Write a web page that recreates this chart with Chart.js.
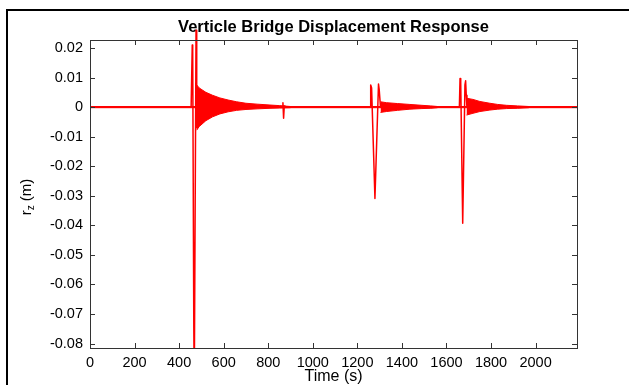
<!DOCTYPE html>
<html>
<head>
<meta charset="utf-8">
<script src="https://cdn.jsdelivr.net/npm/chart.js@4/dist/chart.umd.min.js"></script>
<style>
  body { margin: 0; background: #fff; }
  #wrap { width: 629px; height: 385px; }
</style>
</head>
<body>
<div id="wrap"><canvas id="myChart"></canvas></div>
<script>
// axis limits and ticks
const xMax = 2186;
const yMin = -0.0815;
const yMax = 0.0227;
const xTicks = [0, 200, 400, 600, 800, 1000, 1200, 1400, 1600, 1800, 2000];
const yTicks = [-0.08, -0.07, -0.06, -0.05, -0.04, -0.03, -0.02, -0.01, 0, 0.01, 0.02];

// main trace (time in s, displacement in m)
const traceTime  = [0, 454, 459, 461, 466, 468, 476, 479, 481, 864, 866, 869, 872, 875,
                    1257, 1260, 1264, 1279, 1295, 1298, 1304, 1658, 1661, 1664, 1673, 1683, 1686, 1689, 1692, 2186];
const traceValue = [0, 0, 0.021, 0.019, -0.075, -0.095, 0.026, -0.007, 0, 0, 0.0015, -0.0038, 0.0004, 0,
                    0, 0.0075, 0.0065, -0.0309, 0.0078, 0.006, 0, 0, 0.0097, 0.0085, -0.0393, 0.0075, 0.0089, 0.004, 0, 0];

// envelopes of the decaying vibration after each pass
const decay1Time  = [479, 490, 520, 550, 583, 620, 658, 700, 750, 808, 850, 900];
const decay1Upper = [0.0075, 0.0065, 0.005, 0.004, 0.0031, 0.0024, 0.0018, 0.0013, 0.001, 0.0007, 0.0005, 0.0002];
const decay1Lower = [-0.0078, -0.0066, -0.0046, -0.0033, -0.0023, -0.0016, -0.0011, -0.0008, -0.0006, -0.0004, -0.0003, -0.0002];

const decay2Time  = [1304, 1330, 1380, 1436, 1490, 1530, 1560];
const decay2Upper = [0.0018, 0.0015, 0.0012, 0.0009, 0.0006, 0.0004, 0.0002];
const decay2Lower = [-0.0018, -0.0015, -0.0011, -0.0007, -0.0005, -0.0004, -0.0002];

const decay3Time  = [1690, 1719, 1750, 1795, 1830, 1870, 1920, 1970];
const decay3Upper = [0.003, 0.0026, 0.0019, 0.0013, 0.0009, 0.0006, 0.0004, 0.0002];
const decay3Lower = [-0.0027, -0.0021, -0.0015, -0.001, -0.0007, -0.0005, -0.0004, -0.0002];

// background noise band
const noiseTime  = [0, 2186];
const noiseUpper = [0.0002, 0.0002];
const noiseLower = [-0.0002, -0.0002];

const RED = '#ff0000';
const FONT = 'Liberation Sans, Arial, sans-serif';

function pts(xs, ys) {
    return xs.map((x, i) => ({ x: x, y: ys[i] }));
}

function band(xs, up, lo) {
    return [
        { data: pts(xs, up), borderColor: RED, borderWidth: 1, pointRadius: 0, fill: false },
        { data: pts(xs, lo), borderColor: RED, borderWidth: 1, pointRadius: 0, fill: '-1', backgroundColor: RED }
    ];
}

// outer frame, axes box with inward ticks, y label with subscript
const matlabBox = {
    id: 'matlabBox',
    beforeDraw(chart) {
        const ctx = chart.ctx;
        ctx.save();
        ctx.fillStyle = '#fff';
        ctx.fillRect(0, 0, chart.width, chart.height);
        ctx.strokeStyle = '#000';
        ctx.lineWidth = 2;
        ctx.strokeRect(7, 10, 700, 500);
        ctx.restore();
    },
    afterDatasetsDraw(chart) {
        const ctx = chart.ctx;
        const a = chart.chartArea;
        const xs = chart.scales.x, ys = chart.scales.y;
        ctx.save();
        ctx.strokeStyle = '#333';
        ctx.lineWidth = 1;
        ctx.beginPath();
        xs.ticks.forEach(t => {
            const px = Math.round(xs.getPixelForValue(t.value)) + 0.5;
            ctx.moveTo(px, a.bottom); ctx.lineTo(px, a.bottom - 5);
            ctx.moveTo(px, a.top); ctx.lineTo(px, a.top + 5);
        });
        ys.ticks.forEach(t => {
            const py = Math.round(ys.getPixelForValue(t.value)) + 0.5;
            ctx.moveTo(a.left, py); ctx.lineTo(a.left + 5, py);
            ctx.moveTo(a.right, py); ctx.lineTo(a.right - 5, py);
        });
        ctx.stroke();
        ctx.strokeRect(Math.round(a.left) + 0.5, Math.round(a.top) + 0.5,
                       Math.round(a.right - a.left), Math.round(a.bottom - a.top));

        // y axis label r_z (m)
        ctx.fillStyle = '#000';
        ctx.translate(31, (a.top + a.bottom) / 2 + 3);
        ctx.rotate(-Math.PI / 2);
        ctx.textBaseline = 'alphabetic';
        ctx.font = '15px ' + FONT;
        const wr = ctx.measureText('r').width;
        const wm = ctx.measureText(' (m)').width;
        ctx.font = '10px ' + FONT;
        const wz = ctx.measureText('z').width;
        let x0 = -(wr + wz + wm) / 2;
        ctx.font = '15px ' + FONT;
        ctx.fillText('r', x0, 0);
        ctx.font = '10px ' + FONT;
        ctx.fillText('z', x0 + wr, 3);
        ctx.font = '15px ' + FONT;
        ctx.fillText(' (m)', x0 + wr + wz, 0);
        ctx.restore();
    }
};

let ctx = document.getElementById('myChart').getContext('2d');
let myChart = new Chart(ctx, {
    type: 'line',
    data: {
        datasets: [
            ...band(noiseTime, noiseUpper, noiseLower),
            ...band(decay1Time, decay1Upper, decay1Lower),
            ...band(decay2Time, decay2Upper, decay2Lower),
            ...band(decay3Time, decay3Upper, decay3Lower),
            {
                data: pts(traceTime, traceValue),
                borderColor: RED,
                borderWidth: 1.5,
                borderJoinStyle: 'round',
                pointRadius: 0,
                fill: false,
                tension: 0,
                clip: { left: 0, top: 12, right: 0, bottom: 0 }
            }
        ]
    },
    options: {
        responsive: true,
        maintainAspectRatio: false,
        animation: false,
        layout: {
            padding: { left: 0, right: 52, top: 0, bottom: 0 }
        },
        plugins: {
            legend: { display: false },
            tooltip: { enabled: false },
            title: {
                display: true,
                text: 'Verticle Bridge Displacement Response',
                fullSize: false,
                color: '#000',
                font: { family: FONT, size: 16.5, weight: 'bold', lineHeight: 1.2 },
                padding: { top: 18, bottom: 2.2 }
            }
        },
        scales: {
            x: {
                type: 'linear',
                min: 0,
                max: xMax,
                grid: { display: false, drawTicks: false },
                border: { display: false },
                afterBuildTicks: (scale) => { scale.ticks = xTicks.map(v => ({ value: v })); },
                ticks: {
                    maxRotation: 0,
                    autoSkip: false,
                    padding: 6,
                    color: '#000',
                    font: { family: FONT, size: 14.5 },
                    callback: (value) => String(value)
                },
                title: {
                    display: true,
                    text: 'Time (s)',
                    color: '#000',
                    font: { family: FONT, size: 16, lineHeight: 1 },
                    padding: { top: 0, bottom: 0 }
                },
                afterFit: (scale) => { scale.height = 37; }
            },
            y: {
                min: yMin,
                max: yMax,
                grid: { display: false, drawTicks: false },
                border: { display: false },
                afterBuildTicks: (scale) => { scale.ticks = yTicks.map(v => ({ value: v })); },
                ticks: {
                    padding: 7,
                    autoSkip: false,
                    color: '#000',
                    font: { family: FONT, size: 14.5 },
                    callback: (value) => String(value)
                },
                afterFit: (scale) => { scale.width = 90; }
            }
        }
    },
    plugins: [matlabBox]
});
</script>
</body>
</html>
